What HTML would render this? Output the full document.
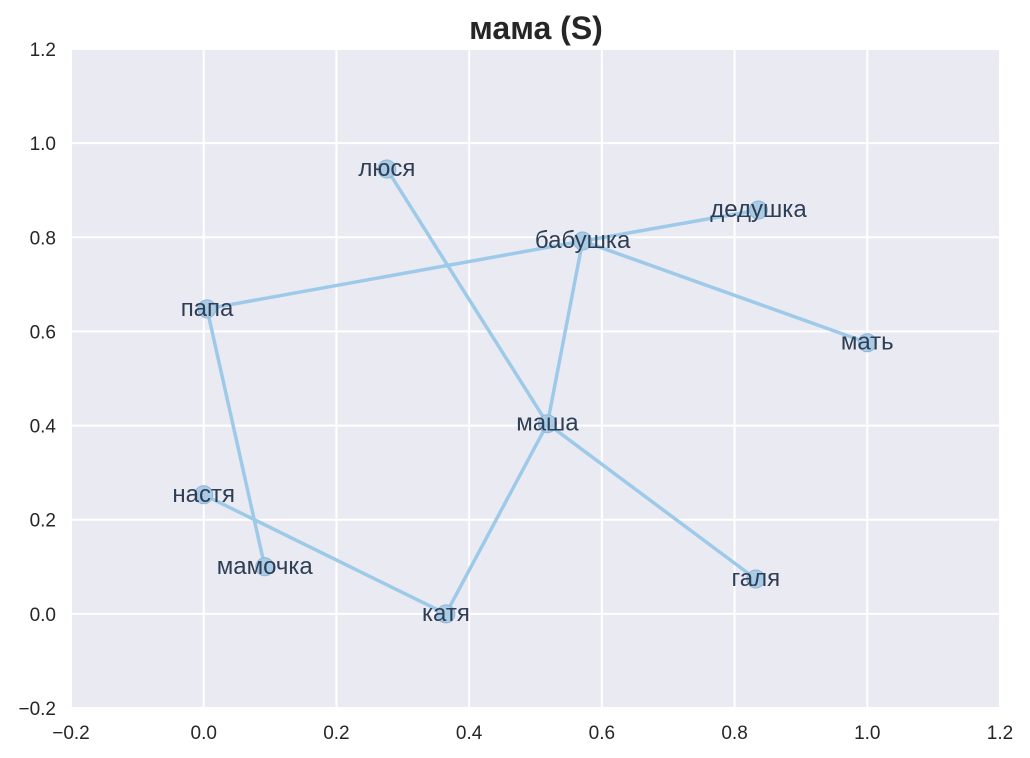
<!DOCTYPE html>
<html><head><meta charset="utf-8">
<style>
body{margin:0;background:#fff;}
svg{display:block;font-family:"Liberation Sans",sans-serif;}
</style></head>
<body>
<svg id="chart" width="1030" height="758">
<text x="536" y="39" text-anchor="middle" font-size="32" font-weight="bold" fill="#262626">мама (S)</text>
<rect x="71" y="49" width="929" height="659" fill="#EAEAF2"/>
<g id="grid"></g><g id="edges"></g><g id="nodes"></g><g id="labels"></g><g id="ticks"></g>
</svg>
<script>
const names=["люся","дедушка","бабушка","папа","мать","маша","настя","мамочка","катя","галя"];
const xs=[0.276,0.836,0.571,0.005,1.0,0.518,0.0,0.092,0.365,0.832];
const ys=[0.945,0.858,0.792,0.648,0.576,0.404,0.253,0.100,0.0,0.074];
const edgesFrom=[1,2,2,2,0,5,5,8,3];
const edgesTo=[2,3,4,5,5,9,8,6,7];
const xTicks=[-0.2,0,0.2,0.4,0.6,0.8,1.0,1.2];
const yTicks=[-0.2,0,0.2,0.4,0.6,0.8,1.0,1.2];
const xTickLabels=["−0.2","0.0","0.2","0.4","0.6","0.8","1.0","1.2"];
const yTickLabels=["−0.2","0.0","0.2","0.4","0.6","0.8","1.0","1.2"];
const NS="http://www.w3.org/2000/svg";
const X=v=>71+(v+0.2)/1.4*929;
const Y=v=>708-(v+0.2)/1.4*659;
function mk(t,a,p){const e=document.createElementNS(NS,t);for(const k in a)e.setAttribute(k,a[k]);p.appendChild(e);return e;}
const g=document.getElementById('grid'),tk=document.getElementById('ticks');
xTicks.forEach((v,i)=>{
 const l=mk('line',{x1:X(v),x2:X(v),y1:49,y2:708,stroke:'#fff','stroke-width':2},g);
 
 
 const t=mk('text',{x:X(v),y:739,'text-anchor':'middle','font-size':19,fill:'#262626'},tk);
 t.textContent=xTickLabels[i];
 
 
});
yTicks.forEach((v,i)=>{
 const l=mk('line',{x1:71,x2:1000,y1:Y(v),y2:Y(v),stroke:'#fff','stroke-width':2},g);
 
 
 const t=mk('text',{x:56,y:Y(v)+7,'text-anchor':'end','font-size':19,fill:'#262626'},tk);
 t.textContent=yTickLabels[i];
 
 
});
const eg=document.getElementById('edges');
edgesFrom.forEach((a,i)=>{
 const b=edgesTo[i];
 const l=mk('line',{x1:X(xs[a]),y1:Y(ys[a]),x2:X(xs[b]),y2:Y(ys[b]),stroke:'#9ECAE9','stroke-width':3.5},eg);
 
 
});
const ng=document.getElementById('nodes'),lg=document.getElementById('labels');
names.forEach((n,i)=>{
 const c=mk('circle',{cx:X(xs[i]),cy:Y(ys[i]),r:9,fill:'#A9CCE6',stroke:'#8FB5D6','stroke-width':1},ng);
 
 
 const t=mk('text',{x:X(xs[i]),y:Y(ys[i])+7,'text-anchor':'middle','font-size':24,fill:'#2F3E55'},lg);
 t.textContent=n;
 
 
});
</script>
</body></html>
